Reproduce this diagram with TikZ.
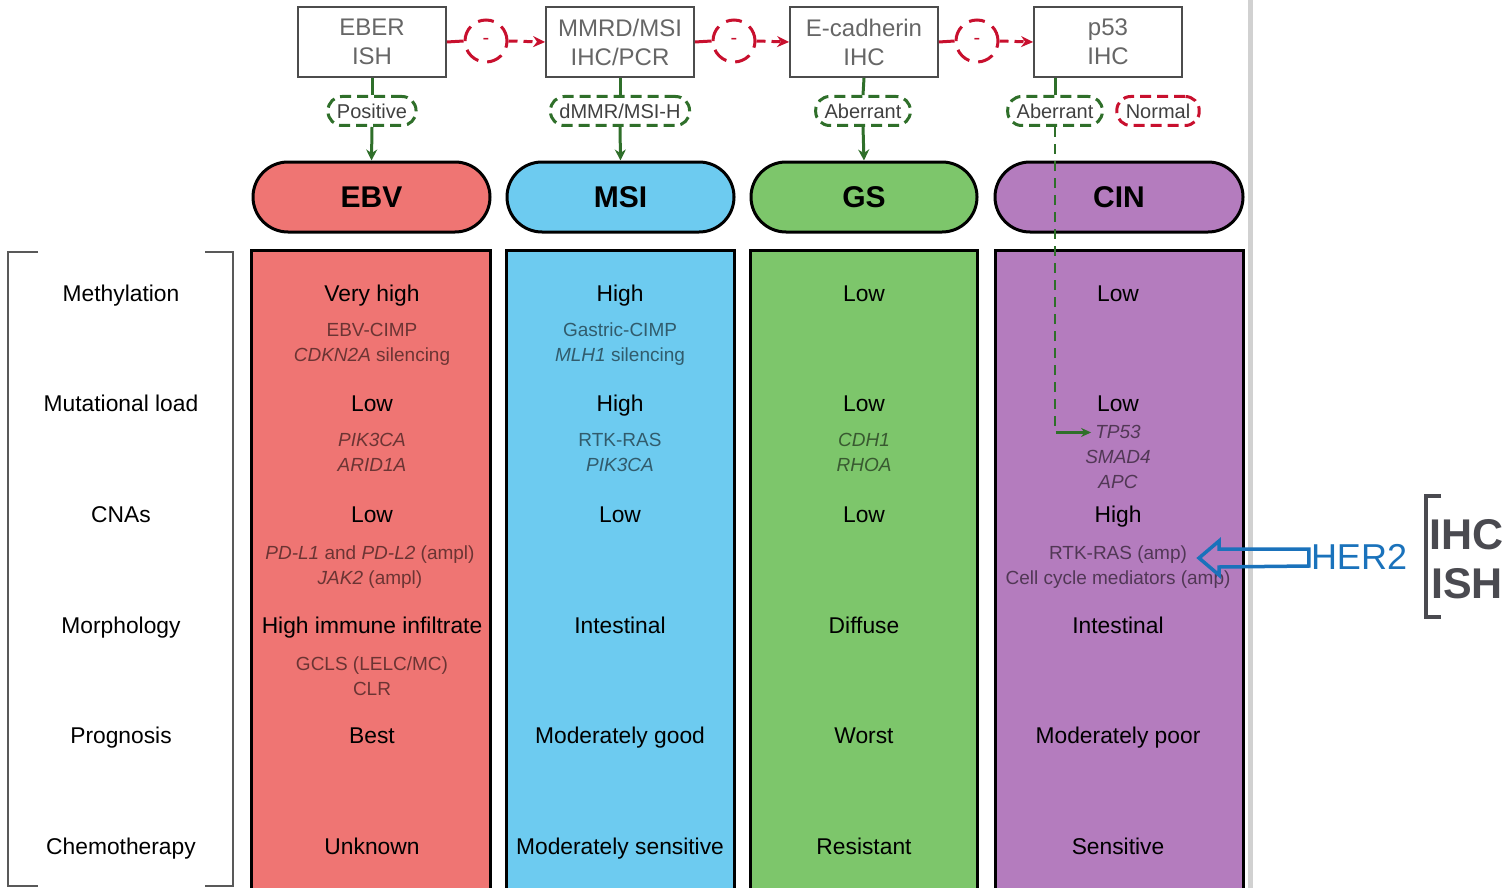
\documentclass[tikz,border=0pt]{standalone}
\usepackage{fontspec}
\setmainfont{Liberation Sans}
\usetikzlibrary{arrows.meta,calc}
\definecolor{ebv}{HTML}{EF7573}
\definecolor{msi}{HTML}{6DCBF0}
\definecolor{gsc}{HTML}{7DC66B}
\definecolor{cin}{HTML}{B47CBE}
\definecolor{dgreen}{HTML}{2F6F2A}
\definecolor{dred}{HTML}{C8102E}
\definecolor{her}{HTML}{1A72BB}
\definecolor{brk}{HTML}{4A4A50}
\tikzset{
  testbox/.style={draw=black!70, line width=1.8pt, minimum width=148pt, minimum height=70pt, align=center, font=\fontsize{24}{29}\selectfont, text=black!60, inner sep=0pt},
  neg/.style={circle, draw=dred, dash pattern=on 16pt off 9pt, line width=3pt, minimum size=42pt, inner sep=0pt, text=dred, font=\fontsize{20}{20}\selectfont},
  oval/.style={draw=#1, dash pattern=on 11pt off 6pt, line width=3pt, rounded corners=14pt, minimum height=29pt, inner xsep=9pt, inner ysep=0pt, font=\fontsize{20}{20}\selectfont, text=black!75},
  pill/.style={draw=black, line width=3pt, rounded corners=35pt, minimum height=70pt, minimum width=#1, font=\bfseries\fontsize{30}{30}\selectfont, inner sep=0pt},
  colb/.style={draw=black, line width=3pt},
  gline/.style={dgreen, line width=3pt},
  rline/.style={dred, line width=3pt},
  mt/.style={anchor=base, font=\fontsize{22.8}{23}\selectfont, inner sep=0pt},
  st/.style={anchor=base, font=\fontsize{19}{19}\selectfont, inner sep=0pt, text=black, text opacity=0.55},
}
\begin{document}
\begin{tikzpicture}[x=1pt,y=-1pt]
\useasboundingbox (0,0) rectangle (1506,888);
% page edge shadow
\draw[black!18, line width=5pt] (1250,0) -- (1250,888);

% columns
\fill[ebv] (251,250) rectangle (490,888);
\fill[msi] (506,250) rectangle (734,888);
\fill[gsc] (750,250) rectangle (977,888);
\fill[cin] (995,250) rectangle (1243,888);
\draw[colb] (251,888) -- (251,250) -- (490,250) -- (490,888);
\draw[colb] (506,888) -- (506,250) -- (734,250) -- (734,888);
\draw[colb] (750,888) -- (750,250) -- (977,250) -- (977,888);
\draw[colb] (995,888) -- (995,250) -- (1243,250) -- (1243,888);

% left bracket
\draw[black!65, line width=2.5pt] (38,252) -- (8,252) -- (8,886) -- (38,886);
\draw[black!65, line width=2.5pt] (205,252) -- (233,252) -- (233,886) -- (205,886);

% top test boxes
\node[testbox] (t1) at (372,42) {EBER\\ISH};
\node[testbox] (t2) at (620,42) {MMRD/MSI\\IHC/PCR};
\node[testbox] (t3) at (864,42) {E-cadherin\\IHC};
\node[testbox] (t4) at (1108,42) {p53\\IHC};

% negative circles
\node[neg] (c1) at (486,41) {-};
\node[neg] (c2) at (734,41) {-};
\node[neg] (c3) at (977,41) {-};
\draw[rline] (t1.east) -- (c1.west);
\draw[rline, dash pattern=on 9pt off 6pt, -{Stealth[length=12pt,width=11pt]}] (c1.east) -- (t2.west);
\draw[rline] (t2.east) -- (c2.west);
\draw[rline, dash pattern=on 9pt off 6pt, -{Stealth[length=12pt,width=11pt]}] (c2.east) -- (t3.west);
\draw[rline] (t3.east) -- (c3.west);
\draw[rline, dash pattern=on 9pt off 6pt, -{Stealth[length=12pt,width=11pt]}] (c3.east) -- (t4.west);

% result ovals
\node[oval=dgreen] (o1) at (372,111) {Positive};
\node[oval=dgreen] (o2) at (620,111) {dMMR/MSI-H};
\node[oval=dgreen] (o3) at (863,111) {Aberrant};
\node[oval=dgreen] (o4) at (1055,111) {Aberrant};
\node[oval=dred] (o5) at (1158,111) {Normal};

% pills
\node[pill=237pt, fill=ebv] (p1) at (371.5,197) {EBV};
\node[pill=227pt, fill=msi] (p2) at (620.5,197) {MSI};
\node[pill=226pt, fill=gsc] (p3) at (864,197) {GS};
\node[pill=248pt, fill=cin] (p4) at (1119,197) {CIN};

% green connectors
\draw[gline] (t1.south) -- (o1.north);
\draw[gline, -{Stealth[length=11pt,width=11pt]}] (o1.south) -- (p1.north);
\draw[gline] (t2.south) -- (o2.north);
\draw[gline, -{Stealth[length=11pt,width=11pt]}] (o2.south) -- (p2.north);
\draw[gline] (t3.south) -- (o3.north);
\draw[gline, -{Stealth[length=11pt,width=11pt]}] (o3.south) -- (p3.north);
\draw[gline] (t4.south -| o4.north) -- (o4.north);

% row labels
\node[mt] (r1) at (121,301) {Methylation};
\node[mt] (r2) at (121,411) {Mutational load};
\node[mt] (r3) at (121,522) {CNAs};
\node[mt] (r4) at (121,633) {Morphology};
\node[mt] (r5) at (121,743) {Prognosis};
\node[mt] (r6) at (121,854) {Chemotherapy};

% EBV column
\node[mt] (e1) at (372,301) {Very high};
\node[st] (e1a) at (372,336) {EBV-CIMP};
\node[st] (e1b) at (372,361) {\textit{CDKN2A} silencing};
\node[mt] (e2) at (372,411) {Low};
\node[st] (e2a) at (372,446) {\textit{PIK3CA}};
\node[st] (e2b) at (372,471) {\textit{ARID1A}};
\node[mt] (e3) at (372,522) {Low};
\node[st] (e3a) at (370,559) {\textit{PD-L1} and \textit{PD-L2} (ampl)};
\node[st] (e3b) at (370,584) {\textit{JAK2} (ampl)};
\node[mt] (e4) at (372,633) {High immune infiltrate};
\node[st] (e4a) at (372,670) {GCLS (LELC/MC)};
\node[st] (e4b) at (372,695) {CLR};
\node[mt] (e5) at (372,743) {Best};
\node[mt] (e6) at (372,854) {Unknown};

% MSI column
\node[mt] (m1) at (620,301) {High};
\node[st] (m1a) at (620,336) {Gastric-CIMP};
\node[st] (m1b) at (620,361) {\textit{MLH1} silencing};
\node[mt] (m2) at (620,411) {High};
\node[st] (m2a) at (620,446) {RTK-RAS};
\node[st] (m2b) at (620,471) {\textit{PIK3CA}};
\node[mt] (m3) at (620,522) {Low};
\node[mt] (m4) at (620,633) {Intestinal};
\node[mt] (m5) at (620,743) {Moderately good};
\node[mt] (m6) at (620,854) {Moderately sensitive};

% GS column
\node[mt] (g1) at (864,301) {Low};
\node[mt] (g2) at (864,411) {Low};
\node[st] (g2a) at (864,446) {\textit{CDH1}};
\node[st] (g2b) at (864,471) {\textit{RHOA}};
\node[mt] (g3) at (864,522) {Low};
\node[mt] (g4) at (864,633) {Diffuse};
\node[mt] (g5) at (864,743) {Worst};
\node[mt] (g6) at (864,854) {Resistant};

% CIN column
\node[mt] (n1) at (1118,301) {Low};
\node[mt] (n2) at (1118,411) {Low};
\node[st] (n2a) at (1118,438) {\textit{TP53}};
\node[st] (n2b) at (1118,463) {\textit{SMAD4}};
\node[st] (n2c) at (1118,488) {\textit{APC}};
\node[mt] (n3) at (1118,522) {High};
\node[st] (n3a) at (1118,559) {RTK-RAS (amp)};
\node[st] (n3b) at (1118,584) {Cell cycle mediators (amp)};
\node[mt] (n4) at (1118,633) {Intestinal};
\node[mt] (n5) at (1118,743) {Moderately poor};
\node[mt] (n6) at (1118,854) {Sensitive};

% p53 aberrant path to TP53
\coordinate (tpw) at ($(n2a.west)+(-4,1)$);
\draw[gline, line width=2.5pt, dash pattern=on 10pt off 7pt] (o4.south) -- (o4.south |- tpw) -- ($(tpw)+(-24,0)$);
\draw[gline, line width=2.5pt, -{Stealth[length=10pt,width=9pt]}] ($(tpw)+(-26,0)$) -- (tpw);

% HER2
\node[font=\fontsize{36}{36}\selectfont, text=her, inner sep=0pt] (her) at (1359,557) {HER2};
\draw[her, line width=3.5pt, line join=miter]
  ($(her.west)+(-2,-8)$) -- (1219,549) -- (1219,541) -- (1199,558) -- (1219,575) -- (1219,567) -- ($(her.west)+(-2,9)$) -- cycle;

% IHC / ISH
\node[font=\bfseries\fontsize{43}{43}\selectfont, text=brk, inner sep=0pt] (ihc) at (1467,535) {IHC};
\node[font=\bfseries\fontsize{43}{43}\selectfont, text=brk, inner sep=0pt] (ish) at (1467,584) {ISH};
\draw[brk, line width=4pt] (1441,496) -- (1426,496) -- (1426,617) -- (1441,617);
\end{tikzpicture}
\end{document}
